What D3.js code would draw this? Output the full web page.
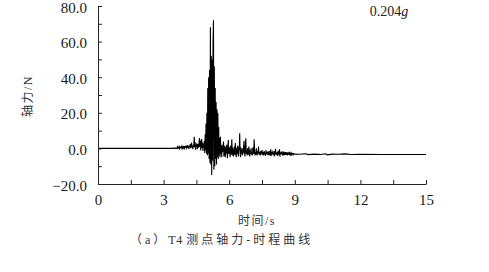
<!DOCTYPE html>
<html>
<head>
<meta charset="utf-8">
<script src="https://cdn.jsdelivr.net/npm/d3@7"></script>
<style>
  body { margin: 0; background: #fff; }
  svg { display: block; }
  .tick text { font-family: "Liberation Serif", serif; font-size: 15px; fill: #1a1a1a; }
</style>
</head>
<body>
<svg id="chart" width="489" height="272"></svg>
<script>
const width = 489, height = 272;

// quiet lead-in before the shaking arrives
const leadIn = [[0, 0], [3.4, 0]];

// main record, sampled every 0.02 s from 3.40 s to 9.00 s (axial force, N)
const sampleStart = 3.4, sampleStep = 0.02;
const force = [
  0.0, 0.1, -0.1, 0.2, 0.0, 0.1, 0.2, -0.1, 0.1, 0.0,      // 3.40
  0.3, 0.7, 0.1, 0.9, 0.3, 0.6, -0.1, 1.0, 0.3, 0.6,       // 3.60
  0.8, 0.2, 1.2, 0.4, -0.2, 0.9, 0.5, 1.3, 0.1, 0.8,       // 3.80
  1.1, 0.3, 1.6, 0.2, 0.9, 1.9, 0.3, 1.1, -0.3, 1.4,       // 4.00
  0.7, 2.4, 0.1, 1.7, 3.2, 0.5, 1.3, -0.5, 2.0, 0.9,       // 4.20
  6.6, 0.5, 3.6, -0.7, 2.2, 1.0, 2.8, -0.4, 1.7, 2.4,      // 4.40
  0.4, 3.0, 5.8, 0.8, 4.4, -1.1, 1.9, 5.3, 0.2, 3.2,       // 4.60
  -1.5, 2.8, 0.6, 4.2, -2.6, 8.0, -1.0, 14, -3.0, 20,      // 4.80
  -4, 34, -3, 40, -6, 44, -8, 68, -9, 52,                  // 5.00
  -15, 50, -7, 58, 72, -12, 46, -10, 34, -6,               // 5.20
  26, -9, 22, -5, 20, -6, 12, -4, 6, -5,                   // 5.40
  6.6, -3, 1.5, -5, 2, -2, 0.5, 3.8, -4.5, -1,             // 5.60
  1.5, -5, 0.5, -3, 2, -1.5, -5.5, 1, 4.7, -3,             // 5.80
  -2, 0.5, -5, 1.5, -3.5, -1, 5.1, -4, 0.5, -2.5,          // 6.00
  -4.5, -1, 1, -3.5, 3, -2, -5, 0, -3, 1.5,                // 6.20
  -2.5, -4.5, 1, -1, 8.5, -3, -5, 0.5, -2.5, -1,           // 6.40
  -4, 0, -3, 1, 4.3, -2, -4.5, 0.5, 5.7, -3,               // 6.60
  -1.5, -4, 0, -2.5, -3.5, 1, -2, -4.5, -1, -3,            // 6.80
  0, -3.5, -2, -4, 0.5, -2.5, -3, 5.1, -1, -4,             // 7.00
  -2, -3.5, 0, -2.5, -4, -1.5, -3, 1, -2.5, -3.5,          // 7.20
  -2, -4, -1.5, -3, -2.5, -0.9, -3.5, -2, -4, -2.5,        // 7.40
  -1.5, -3.5, -2.5, -4.2, -1, -3, -2, -3.5, -1.8, -3,      // 7.60
  -2.5, -4, -1.5, -3, -3.5, -0.5, -2.8, -4, -2, -3.2,      // 7.80
  -1.2, -3.5, -2.5, -4.5, -1.5, -3, -0.2, -3.8, -2.2, -3,  // 8.00
  -2.6, -4.2, -1.3, -3.4, -2.8, -0.5, -4.6, -2.2, -3, -1.8,// 8.20
  -3.4, -2.4, -4, -1.6, -3.2, -2.6, -3.8, -2, -3.6, -2.8,  // 8.40
  -2.0, -3.6, -2.4, -4.0, -2.2, -3, -2.7, -3.7, -2.6, -3.4,// 8.60
  -2.8, -3.6, -2.7, -3.5, -3, -2.8, -3.5, -3.0, -3.3, -3.2,// 8.80
  -3.2                                                     // 9.00
];

// settled tail after the shaking
const tail = [
  [9.2, -3.3], [9.5, -3.0], [9.6, -3.5], [9.9, -3.2], [10.2, -3.4],
  [10.4, -3.0], [10.5, -3.6], [10.7, -3.2], [11.0, -3.3], [11.3, -3.1],
  [11.6, -3.4], [12.0, -3.3], [13.0, -3.4], [14.0, -3.4], [15.0, -3.4]
];

const xTicks = [0, 1.5, 3, 4.5, 6, 7.5, 9, 10.5, 12, 13.5, 15];
const xLabels = [0, 3, 6, 9, 12, 15];
const yTicks = [-20, -10, 0, 10, 20, 30, 40, 50, 60, 70, 80];
const yLabels = [-20, 0, 20, 40, 60, 80];

const points = leadIn
  .concat(force.map((v, i) => [sampleStart + i * sampleStep, v]))
  .concat(tail);

const svg = d3.select("#chart");

const x = d3.scaleLinear().domain([0, 15]).range([98, 426]);
const y = d3.scaleLinear().domain([-20, 80]).range([184, 6]);

// the record itself
svg.append("path")
  .datum(points)
  .attr("fill", "none")
  .attr("stroke", "#000")
  .attr("stroke-width", 1.1)
  .attr("d", d3.line().x(d => x(d[0])).y(d => y(d[1])));

// axes, ticks pointing inward
svg.append("g")
  .attr("transform", `translate(0,${y(-20)})`)
  .call(d3.axisBottom(x)
    .tickValues(xTicks)
    .tickSizeInner(-4).tickSizeOuter(0).tickPadding(10)
    .tickFormat(d => xLabels.includes(d) ? d3.format("d")(d) : ""));

svg.append("g")
  .attr("transform", `translate(${x(0)},0)`)
  .call(d3.axisLeft(y)
    .tickValues(yTicks)
    .tickSizeInner(-4).tickSizeOuter(0).tickPadding(11)
    .tickFormat(d => yLabels.includes(d) ? d3.format(".1f")(d) : ""))
  .selectAll(".tick text").attr("dy", "0.4em");

svg.selectAll(".domain, .tick line").attr("stroke", "#222");

// titles
svg.append("text")
  .attr("transform", "translate(32,96) rotate(-90)")
  .attr("text-anchor", "middle")
  .style("font-family", "'Liberation Serif', 'Noto Sans CJK SC'")
  .style("font-size", "12px")
  .style("letter-spacing", "1.5px")
  .attr("fill", "#333")
  .text("轴力/N");

svg.append("text")
  .attr("x", 257).attr("y", 225)
  .attr("text-anchor", "middle")
  .style("font-family", "'Liberation Serif', 'Noto Sans CJK SC'")
  .style("font-size", "12px")
  .style("letter-spacing", "1.5px")
  .attr("fill", "#333")
  .text("时间/s");

const peak = svg.append("text")
  .attr("x", 389).attr("y", 16)
  .attr("text-anchor", "middle")
  .style("font-family", "'Liberation Serif', serif")
  .style("font-size", "14px")
  .attr("fill", "#222");
peak.append("tspan").text("0.204");
peak.append("tspan").style("font-style", "italic").text("g");

const caption = svg.append("text")
  .attr("x", 130).attr("y", 244)
  .style("font-family", "'Liberation Serif', 'Noto Sans CJK SC'")
  .style("font-size", "12px")
  .style("letter-spacing", "3px")
  .attr("fill", "#333");
caption.append("tspan").text("（a）");
caption.append("tspan").style("letter-spacing", "0.5px").text("T4 ");
caption.append("tspan").text("测点轴力-时程曲线");
</script>
</body>
</html>
